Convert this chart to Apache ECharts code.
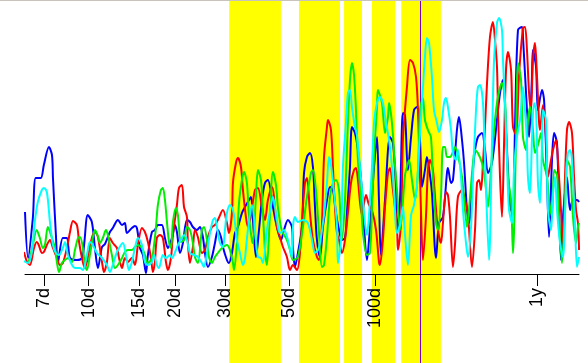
<!DOCTYPE html>
<html><head><meta charset="utf-8">
<script src="https://cdn.jsdelivr.net/npm/echarts@6/dist/echarts.min.js"></script>
<style>html,body{margin:0;padding:0;background:#fff}#c{width:588px;height:363px}</style>
</head><body><div id="c"></div><script>
const tickDays = [7, 10, 15, 20, 30, 50, 100, 365];
const tickLabels = ['7d', '10d', '15d', '20d', '30d', '50d', '100d', '1y'];
const bands = [[30.9, 46.8], [54.1, 75.2], [77.7, 89.7], [97.2, 117], [123, 169]];
const markerDay = 143;

const blue = [[6.00,62],[6.15,16],[6.39,56],[6.54,96],[6.81,96],[6.98,109],[7.27,127],[7.45,119],[7.51,96],[7.69,39],[7.81,11],[8.13,36],[8.40,36],[8.61,16],[9.10,14],[9.48,16],[9.64,29],[9.93,59],[10.26,52],[10.52,26],[10.77,6],[11.13,27],[11.40,30],[11.86,42],[12.14,46],[12.65,54],[13.07,49],[13.38,51],[13.59,41],[14.15,46],[14.50,48],[14.73,46],[15.10,26],[15.46,19],[15.84,1],[16.09,19],[16.62,42],[17.02,44],[17.43,49],[18.00,49],[18.45,36],[18.89,26],[19.52,36],[19.99,49],[20.31,42],[20.81,21],[21.31,31],[22.01,54],[22.55,52],[23.09,47],[23.85,44],[24.43,47],[25.02,37],[25.43,21],[26.04,7],[26.90,17],[27.56,31],[28.22,44],[28.92,37],[29.38,27],[30.34,14],[30.84,11],[31.59,21],[32.36,41],[33.14,47],[34.23,61],[35.06,67],[35.90,72],[36.79,77],[37.38,54],[38.30,17],[39.25,44],[40.18,74],[41.17,91],[42.16,94],[43.89,67],[45.32,47],[46.81,34],[47.97,44],[49.50,54],[51.13,47],[51.53,27],[52.38,7],[53.64,21],[55.40,47],[56.33,101],[57.67,117],[59.09,121],[60.51,107],[61.51,67],[62.49,34],[64.03,17],[65.57,47],[67.72,74],[69.38,87],[71.05,84],[72.80,61],[74.60,44],[76.38,34],[78.25,36],[79.50,61],[81.46,107],[82.76,147],[84.79,141],[86.82,124],[89.68,84],[91.18,47],[93.35,14],[94.91,34],[97.17,74],[98.80,107],[101.2,137],[102.8,74],[104.4,19],[107.9,74],[112.3,137],[115.0,131],[117.8,87],[118.8,41],[121.7,74],[124.6,161],[126.7,159],[129.7,104],[133.0,137],[136.2,164],[139.5,167],[142.9,134],[145.2,87],[148.7,104],[151.1,117],[154.8,99],[157.3,81],[162.5,16],[166.5,51],[171.8,57],[177.4,101],[178.8,106],[183.3,91],[186.2,94],[192.2,144],[195.4,157],[200.2,134],[203.5,111],[208.4,64],[211.9,51],[218.6,104],[222.2,124],[227.5,137],[235.0,141],[240.8,124],[246.6,101],[254.6,111],[265.1,154],[271.6,181],[278.1,194],[285.0,144],[294.3,69],[301.4,59],[306.3,147],[313.7,244],[324.0,247],[326.6,237],[337.2,164],[342.9,137],[351.0,197],[353.8,224],[362.6,207],[368.3,164],[380.4,184],[386.8,174],[395.9,97],[402.6,37],[412.2,114],[419.1,141],[429.1,131],[436.2,64],[443.1,14],[450.2,57],[464.9,97],[476.4,64],[487.8,74],[503.8,74],[512.3,72]];

const red = [[5.95,22],[6.10,12],[6.24,9],[6.45,26],[6.59,32],[6.70,29],[6.87,21],[6.98,22],[7.15,29],[7.33,34],[7.51,26],[7.75,16],[7.94,9],[8.13,11],[8.40,26],[8.61,42],[8.82,53],[9.10,49],[9.26,32],[9.48,16],[9.70,6],[9.93,16],[10.26,36],[10.52,42],[10.77,37],[11.13,12],[11.31,2],[11.58,12],[11.86,36],[12.14,31],[12.55,26],[12.76,16],[13.07,6],[13.38,16],[13.70,12],[14.15,16],[14.50,9],[14.85,29],[15.34,46],[15.71,42],[16.09,32],[16.49,16],[16.75,2],[17.02,12],[17.29,36],[17.72,39],[18.14,36],[18.60,12],[18.89,4],[19.36,16],[19.67,39],[20.31,69],[20.65,86],[21.14,89],[21.50,67],[22.01,57],[22.18,31],[22.55,11],[23.09,27],[23.47,44],[24.03,37],[24.82,21],[25.43,24],[26.04,37],[26.90,47],[27.56,49],[28.22,54],[29.38,64],[30.34,51],[30.84,41],[31.59,61],[31.84,91],[32.62,111],[33.14,116],[33.96,107],[34.50,84],[35.34,57],[35.90,47],[36.79,59],[38.00,84],[38.91,86],[40.18,67],[41.17,54],[42.16,74],[43.55,87],[45.32,47],[46.44,37],[47.55,27],[49.11,17],[50.32,4],[51.53,9],[53.22,4],[54.53,21],[55.84,67],[56.76,91],[57.67,96],[59.09,61],[60.51,34],[62.49,17],[63.54,14],[65.05,51],[66.14,117],[67.72,147],[68.25,154],[69.94,144],[71.05,107],[72.22,67],[73.38,41],[74.60,34],[76.38,21],[78.25,34],[80.13,61],[82.11,91],[84.15,104],[85.47,106],[86.82,94],[89.68,59],[92.6,79],[94.91,69],[97.17,64],[100.4,44],[102.8,12],[103.6,9],[106.1,34],[107.9,67],[110.5,101],[112.3,106],[115.0,84],[118.8,47],[119.7,24],[122.7,51],[124.6,134],[128.7,187],[131.9,214],[135.1,211],[138.4,197],[140.6,164],[144.0,64],[146.3,14],[149.9,57],[152.3,104],[154.8,114],[158.5,104],[161.2,77],[165.1,44],[169.1,31],[171.8,51],[176.0,82],[178.8,79],[181.8,57],[186.2,7],[189.2,29],[193.7,77],[200.2,84],[205.1,74],[210.0,59],[216.9,7],[222.2,44],[225.8,91],[229.5,94],[233.2,84],[236.9,111],[240.8,147],[244.7,191],[250.6,237],[256.6,252],[260.9,234],[265.1,207],[267.2,164],[271.6,97],[275.9,57],[280.6,131],[285.0,204],[289.5,222],[296.7,204],[301.4,147],[308.8,139],[316.4,199],[326.6,246],[331.9,247],[337.2,224],[342.9,181],[348.3,164],[353.8,214],[359.7,231],[365.5,197],[374.4,144],[383.4,169],[392.8,137],[399.1,97],[409.0,114],[415.4,124],[425.7,134],[432.4,114],[443.1,64],[450.2,31],[457.6,97],[464.9,144],[472.7,152],[484.0,141],[492.1,97],[499.9,64],[507.8,51],[512.3,24]];

const green = [[6.15,12],[6.24,16],[6.39,29],[6.59,44],[6.76,36],[6.92,26],[7.04,29],[7.21,47],[7.39,39],[7.63,26],[7.75,12],[7.88,2],[8.07,11],[8.27,14],[8.47,16],[8.75,12],[8.96,24],[9.18,36],[9.33,37],[9.55,26],[9.70,9],[9.86,4],[10.10,19],[10.34,36],[10.52,44],[10.77,38],[10.95,31],[11.21,36],[11.49,44],[11.67,39],[12.05,19],[12.35,6],[12.65,9],[13.07,16],[13.38,22],[13.70,24],[14.15,24],[14.50,27],[14.85,29],[15.34,26],[15.71,19],[16.09,11],[16.62,16],[16.90,29],[17.16,46],[17.43,69],[17.86,84],[18.14,86],[18.45,74],[18.75,52],[19.06,32],[19.36,26],[19.67,52],[20.15,66],[20.47,59],[20.98,32],[21.50,34],[22.01,47],[22.55,44],[23.09,31],[23.47,17],[24.03,11],[24.82,44],[25.24,47],[25.84,34],[26.27,17],[26.90,11],[27.56,17],[28.22,21],[29.15,26],[30.34,29],[31.09,24],[31.84,11],[32.12,4],[32.88,31],[33.43,71],[34.23,94],[34.80,102],[35.62,91],[36.22,57],[37.08,34],[37.38,31],[38.30,77],[38.91,104],[39.87,94],[40.50,61],[41.17,24],[41.83,9],[42.86,59],[43.89,102],[44.97,89],[45.68,67],[46.81,47],[47.55,41],[49.11,34],[50.32,24],[51.53,14],[53.64,17],[55.84,47],[57.67,77],[59.56,101],[60.51,104],[62.00,84],[63.54,41],[65.05,7],[66.14,9],[67.72,37],[69.38,77],[71.05,91],[72.80,94],[74.60,84],[75.18,67],[76.38,34],[78.25,74],[80.13,151],[81.46,194],[82.76,211],[84.15,199],[85.47,164],[86.82,114],[88.98,74],[90.39,41],[93.35,19],[95.64,21],[97.17,64],[98.80,117],[101.2,167],[101.9,184],[105.3,171],[107.9,141],[110.5,157],[111.5,171],[114.1,151],[116.9,109],[118.8,84],[121.7,44],[123.6,59],[126.7,99],[128.7,107],[130.9,114],[134.0,94],[137.3,74],[140.6,104],[142.9,164],[146.3,176],[148.7,154],[152.3,144],[156.0,137],[158.5,97],[162.5,51],[165.1,44],[169.1,77],[171.8,127],[174.6,127],[177.4,117],[181.8,117],[186.2,122],[189.2,127],[193.7,119],[200.2,97],[205.1,64],[208.4,47],[213.5,77],[218.6,111],[222.2,124],[227.5,121],[235.0,111],[240.8,94],[246.6,67],[252.6,104],[256.6,131],[265.1,171],[275.9,191],[282.7,174],[289.5,97],[296.7,74],[301.4,21],[308.8,131],[313.7,211],[321.5,194],[326.6,137],[334.6,124],[339.9,154],[345.5,167],[353.8,144],[359.7,121],[368.3,129],[377.4,141],[383.4,114],[395.9,97],[402.6,74],[412.2,57],[419.1,104],[429.1,99],[436.2,57],[446.6,11],[457.6,64],[464.9,114],[476.4,107],[487.8,57],[499.9,31],[507.8,47],[512.3,51]];

const cyan = [[5.95,13],[6.15,11],[6.34,22],[6.49,52],[6.65,72],[6.87,84],[6.98,86],[7.15,82],[7.33,52],[7.51,29],[7.69,21],[7.88,19],[8.13,26],[8.27,32],[8.47,19],[8.75,9],[8.96,6],[9.33,6],[9.55,4],[9.86,19],[10.10,32],[10.34,29],[10.69,21],[11.13,16],[11.58,9],[11.86,2],[12.14,9],[12.55,22],[12.96,29],[13.17,31],[13.49,19],[13.82,4],[14.15,12],[14.50,26],[14.85,36],[15.34,29],[15.71,12],[16.09,9],[16.62,12],[16.90,19],[17.29,9],[17.58,6],[18.14,19],[18.60,16],[19.21,19],[19.52,16],[20.15,24],[20.47,29],[21.14,36],[21.50,39],[22.01,34],[22.55,21],[23.29,19],[24.03,17],[24.82,11],[25.24,7],[25.84,21],[26.48,41],[27.12,54],[27.56,56],[28.00,47],[28.69,31],[29.38,27],[29.86,44],[30.34,61],[31.09,69],[31.84,64],[32.36,51],[32.88,34],[33.69,21],[34.50,9],[35.06,16],[35.90,44],[37.08,69],[38.30,34],[38.91,17],[39.87,16],[40.50,11],[41.83,44],[43.55,74],[43.89,77],[45.32,54],[46.44,41],[47.97,44],[49.50,34],[51.13,17],[51.53,47],[52.38,57],[53.64,52],[55.84,54],[58.12,51],[60.04,34],[61.51,21],[62.99,24],[64.03,31],[66.14,59],[67.72,91],[68.85,117],[69.94,109],[71.67,81],[73.38,49],[73.95,11],[75.78,34],[76.98,107],[78.88,151],[80.13,181],[81.46,184],[82.76,167],[84.79,147],[86.15,139],[88.27,107],[90.39,74],[91.88,51],[93.35,39],[94.91,59],[97.17,107],[98.80,151],[101.2,171],[103.6,177],[106.1,171],[108.8,151],[111.5,134],[114.1,107],[116.0,81],[118.8,41],[121.7,49],[124.6,67],[126.7,39],[129.7,9],[133.0,59],[136.2,69],[139.5,89],[141.8,124],[145.2,171],[148.7,217],[151.1,236],[153.6,231],[157.3,197],[159.9,164],[163.8,151],[166.5,142],[170.5,154],[173.3,171],[176.0,176],[178.8,167],[183.3,144],[186.2,121],[190.7,114],[193.7,124],[198.6,97],[201.7,64],[206.7,31],[210.0,17],[215.2,47],[218.6,97],[224.0,164],[227.5,187],[231.3,189],[236.9,171],[240.8,114],[244.7,57],[248.7,14],[254.6,131],[258.9,214],[265.1,251],[269.5,256],[275.9,244],[278.1,214],[282.7,171],[287.2,114],[292.0,64],[299.0,51],[304.0,104],[311.2,137],[318.9,154],[326.6,187],[331.9,164],[337.2,131],[339.9,97],[345.5,81],[351.0,134],[356.9,171],[362.6,164],[368.3,91],[374.4,71],[380.4,131],[383.4,164],[392.8,154],[399.1,64],[409.0,44],[415.4,79],[422.3,97],[429.1,64],[439.6,31],[450.2,17],[461.3,91],[468.6,121],[476.4,124],[484.0,114],[495.9,51],[503.8,7],[512.3,17]];

function lineSeries(name, data, color) {
  return {
    name: name, type: 'line', data: data, showSymbol: false, smooth: 0.3,
    xAxisIndex: 0, yAxisIndex: 0,
    lineStyle: { color: color, width: 2 }, itemStyle: { color: color }, z: 3
  };
}

const chart = echarts.init(document.getElementById('c'), null, { renderer: 'canvas' });
chart.setOption({
  animation: false,
  backgroundColor: '#ffffff',
  grid: [
    { left: 25, right: 9, top: 0, bottom: 89, containLabel: false, outerBoundsMode: 'none' },
    { left: 25, right: 9, top: 0, bottom: 0, containLabel: false, outerBoundsMode: 'none' }
  ],
  xAxis: [{
    gridIndex: 0, type: 'log', logBase: 10, min: 6, max: 512,
    axisLine: { show: true, onZero: false, lineStyle: { color: '#000', width: 1 } },
    axisTick: { show: true, length: 12, customValues: tickDays, lineStyle: { color: '#000', width: 1 } },
    axisLabel: {
      customValues: tickDays, rotate: 90, margin: 14, fontSize: 18,
      fontFamily: 'Liberation Sans', color: '#000',
      formatter: function (v) {
        for (let i = 0; i < tickDays.length; i++) {
          if (Math.abs(tickDays[i] - v) / tickDays[i] < 0.01) return tickLabels[i];
        }
        return '';
      }
    },
    splitLine: { show: false }, minorTick: { show: false }, minorSplitLine: { show: false }
  }, {
    gridIndex: 1, type: 'log', logBase: 10, min: 6, max: 512, show: false
  }],
  yAxis: [
    { gridIndex: 0, type: 'value', min: 0, max: 274, show: false, splitLine: { show: false } },
    { gridIndex: 1, type: 'value', min: 0, max: 1, show: false, splitLine: { show: false } }
  ],
  graphic: [
    { type: 'line', shape: { x1: 0, y1: 0.5, x2: 588, y2: 0.5 }, style: { stroke: '#c8c4bc', lineWidth: 1 }, z: 100 }
  ],
  series: [
    {
      type: 'line', data: [], xAxisIndex: 1, yAxisIndex: 1, z: -1,
      markArea: {
        silent: true, z: -1,
        itemStyle: { color: '#ffff00', opacity: 1 },
        data: bands.map(b => [{ xAxis: b[0] }, { xAxis: b[1] }])
      },
      markLine: {
        silent: true, z: -1, symbol: 'none', label: { show: false },
        lineStyle: { color: '#8000c0', width: 1, type: 'solid' },
        data: [{ xAxis: markerDay }]
      }
    },
    lineSeries('A', blue, '#0000ff'),
    lineSeries('B', red, '#ff0000'),
    lineSeries('C', green, '#00ee00'),
    lineSeries('D', cyan, '#00ffff')
  ]
});
</script></body></html>
